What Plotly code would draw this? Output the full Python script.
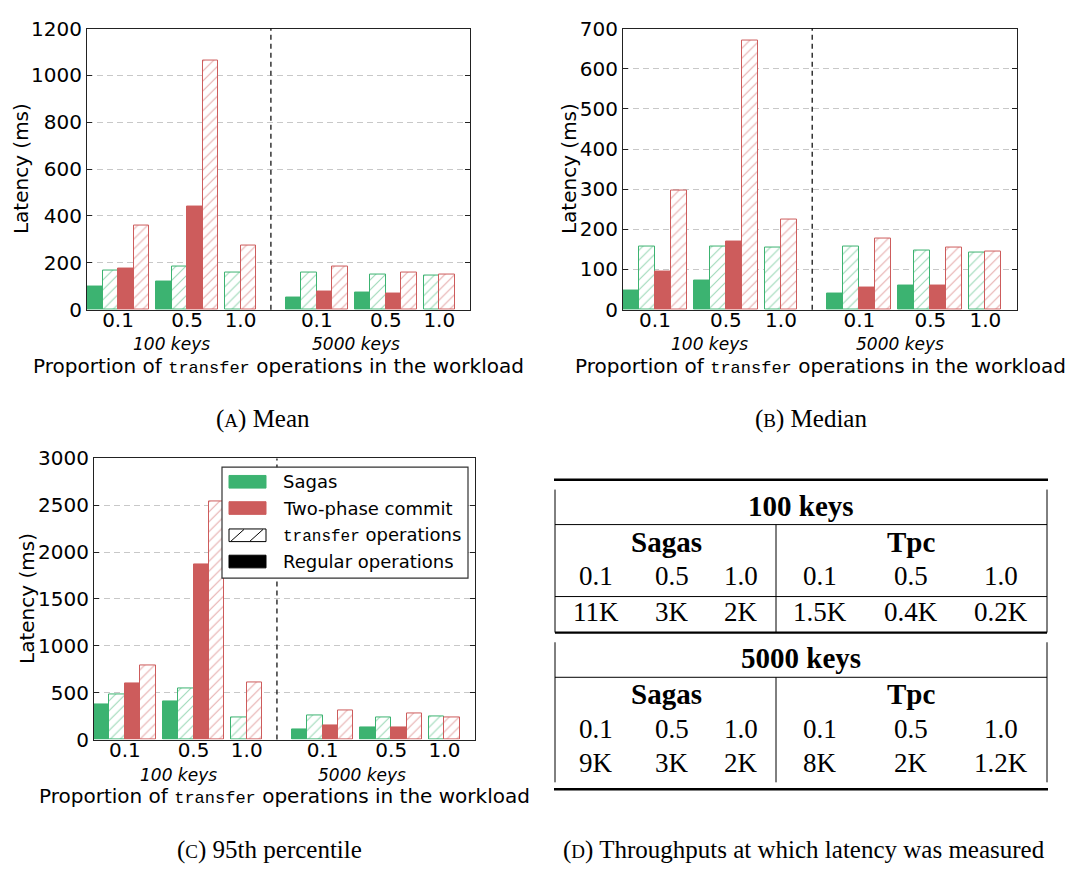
import plotly.graph_objects as go

W, H = 1070, 877

# ---------------- data ----------------
proportions = ["0.1", "0.5", "1.0"]
key_sets = ["100 keys", "5000 keys"]
legend_labels = ["Sagas", "Two-phase commit", "transfer operations", "Regular operations"]

# group order: 100 keys (0.1, 0.5, 1.0), 5000 keys (0.1, 0.5, 1.0); None = not measured
mean_sagas_regular = [100, 121, None, 51, 72, None]
mean_sagas_transfer = [167, 185, 159, 159, 150, 146]
mean_tpc_regular = [175, 442, None, 76, 68, None]
mean_tpc_transfer = [359, 1063, 272, 184, 159, 150]

median_sagas_regular = [47, 73, None, 40, 60, None]
median_sagas_transfer = [158, 158, 154, 158, 147, 142]
median_tpc_regular = [96, 170, None, 54, 61, None]
median_tpc_transfer = [296, 671, 225, 177, 155, 145]

p95_sagas_regular = [377, 404, None, 104, 128, None]
p95_sagas_transfer = [477, 550, 238, 252, 232, 249]
p95_tpc_regular = [594, 1870, None, 152, 131, None]
p95_tpc_transfer = [788, 2540, 612, 311, 276, 238]

# table (D)
table_systems = ["Sagas", "Tpc"]
throughput_100_keys = ["11K", "3K", "2K", "1.5K", "0.4K", "0.2K"]
throughput_5000_keys = ["9K", "3K", "2K", "8K", "2K", "1.2K"]

captions = ["(<span style='font-size:19px'>A</span>) Mean",
            "(<span style='font-size:19px'>B</span>) Median",
            "(<span style='font-size:19px'>C</span>) 95th percentile",
            "(<span style='font-size:19px'>D</span>) Throughputs at which latency was measured"]

# ---------------- style / layout ----------------
GREEN = "#3cb371"
RED = "#cd5c5c"
SANS = "DejaVu Sans"
MONO = "Liberation Mono"
SERIF = "Liberation Serif"

group_starts = [0.0, 1.0, 2.0, 2.88, 3.88, 4.88]
bar_w = 0.225
sep_x = 2.665
x_range = [0, 5.55]


def px(x):
    return x / W


def py(y):
    return 1 - y / H


panels = [
    dict(vals=[mean_sagas_regular, mean_sagas_transfer, mean_tpc_regular, mean_tpc_transfer],
         box=(87, 470, 17, 306), yr=[0, 1200], dt=200, ytitle_x=21, lab_y=(341, 364)),
    dict(vals=[median_sagas_regular, median_sagas_transfer, median_tpc_regular, median_tpc_transfer],
         box=(623, 1017, 17, 306), yr=[0, 700], dt=100, ytitle_x=569, lab_y=(341, 364)),
    dict(vals=[p95_sagas_regular, p95_sagas_transfer, p95_tpc_regular, p95_tpc_transfer],
         box=(94, 475, 459, 748), yr=[0, 3000], dt=500, ytitle_x=27, lab_y=(784, 806)),
]

series_style = [(GREEN, False), (GREEN, True), (RED, False), (RED, True)]

fig = go.Figure()
annotations = []
shapes = []
layout = {}

for i, p in enumerate(panels):
    n = "" if i == 0 else str(i + 1)
    xa, ya = "x" + n, "y" + n
    x0, x1, y0, y1 = p["box"]
    # bar positions
    xs = [[] for _ in range(4)]
    ys = [[] for _ in range(4)]
    centers = []
    for g, start in enumerate(group_starts):
        slot = 0
        for s in range(4):
            v = p["vals"][s][g]
            if v is None:
                continue
            xs[s].append(start + (slot + 0.5) * bar_w)
            ys[s].append(v)
            slot += 1
        centers.append(start + slot * bar_w / 2)
    for s in range(4):
        col, hatched = series_style[s]
        if hatched:
            marker = dict(color="white", line=dict(color=col, width=1),
                          pattern=dict(shape="/", fgcolor=col, bgcolor="white",
                                       size=7, solidity=0.16, fillmode="overlay"))
        else:
            marker = dict(color=col, line=dict(color=col, width=1))
        fig.add_trace(go.Bar(x=xs[s], y=ys[s], width=bar_w, marker=marker,
                             xaxis=xa, yaxis=ya, showlegend=False, hoverinfo="skip"))
    layout["xaxis" + n] = dict(domain=[px(x0), px(x1)], anchor=ya, range=x_range,
                               tickvals=centers, ticktext=proportions * 2,
                               showgrid=False, zeroline=False, showline=True, mirror=True,
                               linecolor="#222", linewidth=1, ticks="", ticklabelstandoff=-8,
                               tickfont=dict(family=SANS, size=20, color="black"))
    layout["yaxis" + n] = dict(domain=[py(y1), py(y0)], anchor=xa, range=p["yr"], dtick=p["dt"],
                               showgrid=True, gridcolor="#c8c8c8", griddash="6px,4px", gridwidth=1,
                               zeroline=False, showline=True, mirror="ticks", linecolor="#222",
                               linewidth=1, ticks="inside", ticklen=5, tickcolor="#222",
                               tickfont=dict(family=SANS, size=20, color="black"))
    # separator
    shapes.append(dict(type="line", xref=xa, yref=ya + " domain", x0=sep_x, x1=sep_x, y0=0, y1=1,
                       line=dict(color="black", width=1.2, dash="5px,4px")))
    # group labels
    for k, xc in zip(key_sets, [1.225, 3.9]):
        annotations.append(dict(text="<i>%s</i>" % k, x=xc, xref=xa, y=py(p["lab_y"][0]), yref="paper",
                                showarrow=False, xanchor="center", yanchor="middle",
                                font=dict(family=SANS, size=17, color="black")))
    annotations.append(dict(
        text="Proportion of <span style=\"font-family:%s;font-size:17px\">transfer</span> operations in the workload" % MONO,
        x=px((x0 + x1) / 2), y=py(p["lab_y"][1]), xref="paper", yref="paper", showarrow=False,
        xanchor="center", yanchor="middle", font=dict(family=SANS, size=20, color="black")))
    annotations.append(dict(text="Latency (ms)", x=px(p["ytitle_x"]), y=py((y0 + y1) / 2),
                            xref="paper", yref="paper", showarrow=False, textangle=-90,
                            xanchor="center", yanchor="middle",
                            font=dict(family=SANS, size=20, color="black")))

# ---------------- legend (panel C) ----------------
shapes.append(dict(type="rect", xref="paper", yref="paper", x0=px(222), x1=px(468), y0=py(582), y1=py(468),
                   fillcolor="white", line=dict(color="#333", width=1.2), layer="above"))
sw_x0, sw_x1 = 229, 266
legend_rows = [483, 510, 538, 565]
sw_fill = [GREEN, RED, "white", "black"]
for r, (yc, fc) in enumerate(zip(legend_rows, sw_fill)):
    shapes.append(dict(type="rect", xref="paper", yref="paper", x0=px(sw_x0), x1=px(sw_x1),
                       y0=py(yc + 6.5), y1=py(yc - 6.5), fillcolor=fc,
                       line=dict(color=("black" if r >= 2 else fc), width=1), layer="above"))
for lx in (231, 250):
    shapes.append(dict(type="line", xref="paper", yref="paper", x0=px(lx), x1=px(lx + 13),
                       y0=py(544), y1=py(532), line=dict(color="black", width=1), layer="above"))
legend_texts = [legend_labels[0], legend_labels[1],
                "<span style=\"font-family:%s;font-size:16px\">transfer</span> operations" % MONO,
                legend_labels[3]]
for yc, t in zip(legend_rows, legend_texts):
    annotations.append(dict(text=t, x=px(281), y=py(yc), xref="paper", yref="paper", showarrow=False,
                            xanchor="left", yanchor="middle", font=dict(family=SANS, size=18, color="black")))

# ---------------- table (D) ----------------
TL, TR, TM = 555, 1047, 776
col_x = [596, 672, 741, 820, 911, 1001]
sys_x = [666, 911]


def hline(y, w=1.0, xa=TL, xb=TR):
    shapes.append(dict(type="line", xref="paper", yref="paper", x0=px(xa), x1=px(xb), y0=py(y), y1=py(y),
                       line=dict(color="black", width=w)))


def vline(x, ya, yb, w=1.0):
    shapes.append(dict(type="line", xref="paper", yref="paper", x0=px(x), x1=px(x), y0=py(ya), y1=py(yb),
                       line=dict(color="black", width=w)))


def txt(t, x, y, size=27, bold=False):
    annotations.append(dict(text=("<b>%s</b>" % t) if bold else t, x=px(x), y=py(y), xref="paper",
                            yref="paper", showarrow=False, xanchor="center", yanchor="middle",
                            font=dict(family=SERIF, size=size, color="black")))


hline(481, 2.5, TL - 1, TR + 1)
hline(799, 2.5, TL - 1, TR + 1)
blocks = [
    dict(title=key_sets[0], values=throughput_100_keys, top=491, bottom=638, title_y=508, rule=527,
         sys_y=545, prop_y=580, val_y=617, mid_rule=601),
    dict(title=key_sets[1], values=throughput_5000_keys, top=648, bottom=792, title_y=664, rule=684,
         sys_y=701, prop_y=737, val_y=772, mid_rule=None),
]
for b in blocks:
    vline(TL, b["top"], b["bottom"])
    vline(TR, b["top"], b["bottom"])
    vline(TM, b["rule"], b["bottom"])
    hline(b["rule"])
    if b["mid_rule"]:
        hline(b["mid_rule"])
        hline(b["bottom"], 2.2)
    txt(b["title"], (TL + TR) / 2, b["title_y"], 29, True)
    for s, sx in zip(table_systems, sys_x):
        txt(s, sx, b["sys_y"], 29, True)
    for j, cx in enumerate(col_x):
        txt(proportions[j % 3], cx, b["prop_y"])
        txt(b["values"][j], cx, b["val_y"])

# ---------------- captions ----------------
for c, (cx, cy) in zip(captions, [(263, 418), (811, 418), (270, 862), (804, 862)]):
    annotations.append(dict(text=c, x=px(cx), y=py(cy), xref="paper", yref="paper", showarrow=False,
                            xanchor="center", yanchor="middle", font=dict(family=SERIF, size=25, color="black")))

fig.update_layout(width=W, height=H, margin=dict(l=0, r=0, t=0, b=0),
                  paper_bgcolor="white", plot_bgcolor="white", barmode="overlay", bargap=0,
                  showlegend=False, annotations=annotations, shapes=shapes, **layout)

fig.write_html("out.html", config={"displayModeBar": False},
               post_script="document.body.style.margin='0px';document.body.style.padding='0px';")
